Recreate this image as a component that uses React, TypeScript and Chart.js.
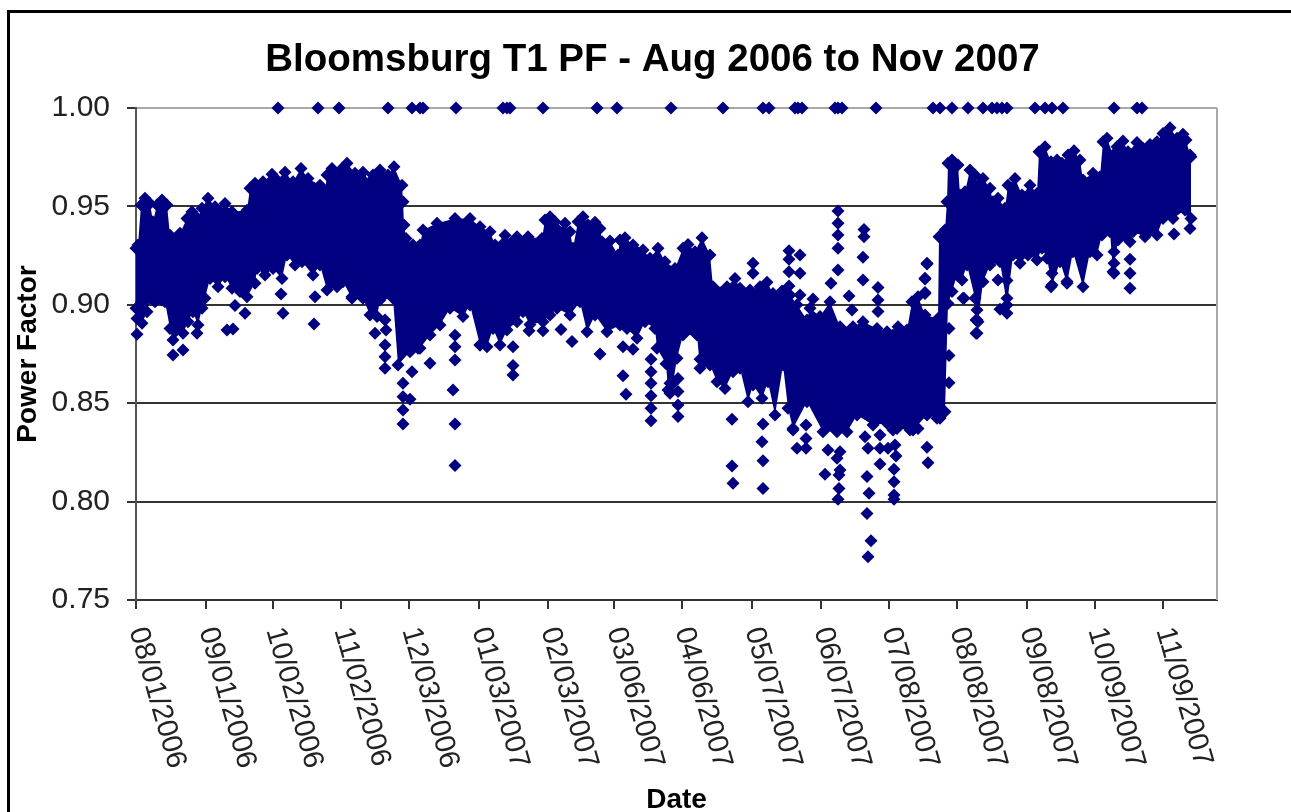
import React, { useEffect, useRef } from "react";
import { Chart, registerables } from "chart.js";

Chart.register(...registerables);

const chartTitle = "Bloomsburg T1 PF - Aug 2006 to Nov 2007";
const xTitle = "Date";
const yTitle = "Power Factor";

const tickSamples = [0, 70, 137, 205, 273, 343, 412, 478, 546, 616, 685, 753, 821, 891, 959, 1027];
const tickDates = [
  "08/01/2006", "09/01/2006", "10/02/2006", "11/02/2006", "12/03/2006", "01/03/2007", "02/03/2007", "03/06/2007",
  "04/06/2007", "05/07/2007", "06/07/2007", "07/08/2007", "08/08/2007", "09/08/2007", "10/09/2007", "11/09/2007",
];

const upperEnvelope: [number, number][] = [
  [0,.9287],[2,.9304],[5,.9507],[9,.9541],[14,.9515],[17,.9422],[21,.9507],[26,.9532],[31,.9507],[34,.9354],[44,.9363],[51,.9439],[56,.9473],[62,.9439],[66,.949],[72,.9541],[79,.9498],[84,.9473],[89,.9515],[96,.9473],[111,.9481],[114,.9592],[119,.9617],[126,.9592],[127,.9625],[136,.9663],[141,.9634],[149,.9673],[157,.9625],[165,.9693],[172,.9642],[184,.9608],[189,.9575],[191,.9659],[196,.9693],[202,.9659],[206,.9693],[211,.9719],[219,.9668],[227,.9673],[234,.9625],[237,.9659],[244,.9685],[252,.9659],[258,.9702],[266,.9608],[267,.9524],[268,.9405],[270,.9337],[277,.9304],[284,.9304],[287,.938],[301,.9414],[319,.9439],[334,.9439],[344,.9397],[354,.9371],[359,.9304],[369,.9354],[376,.9321],[381,.9346],[392,.9346],[406,.9337],[409,.9431],[414,.9448],[419,.9422],[422,.938],[429,.9414],[434,.9371],[437,.9287],[442,.9422],[447,.9448],[452,.9405],[459,.9419],[464,.9388],[466,.9321],[474,.9324],[482,.9253],[484,.9329],[489,.9341],[497,.9304],[501,.927],[507,.9278],[514,.9236],[522,.9287],[529,.9219],[539,.9185],[547,.9287],[552,.9307],[559,.927],[566,.9341],[574,.9253],[577,.9092],[591,.9092],[599,.9134],[604,.9084],[614,.9075],[624,.9092],[631,.9114],[637,.9058],[646,.907],[654,.905],[661,.9],[671,.8923],[674,.8982],[684,.894],[694,.9016],[704,.8889],[717,.8889],[727,.8914],[741,.888],[751,.8863],[762,.8889],[771,.8872],[776,.9016],[782,.9041],[789,.8948],[802,.8931],[803,.9346],[809,.938],[811,.9524],[812,.9719],[816,.9736],[822,.971],[824,.9558],[829,.9575],[834,.9685],[839,.9659],[842,.9608],[847,.9642],[854,.9592],[857,.9524],[862,.9541],[869,.949],[872,.9608],[879,.9642],[886,.9558],[894,.9608],[901,.9566],[903,.9778],[909,.9803],[915,.9727],[921,.9736],[926,.9719],[932,.9761],[938,.9783],[944,.9736],[947,.9634],[957,.9668],[964,.9651],[967,.9829],[971,.9846],[977,.9761],[981,.9803],[987,.9832],[992,.9778],[1001,.9825],[1007,.9795],[1014,.9815],[1021,.9829],[1027,.9871],[1034,.99],[1041,.9846],[1047,.9866],[1050,.9837],[1054,.9761],[1055,.9752],
];

const lowerEnvelope: [number, number][] = [
  [0,.8982],[1,.8931],[6,.8906],[11,.8965],[14,.9033],[19,.9016],[26,.9024],[29,.9016],[34,.888],[39,.8863],[47,.8855],[52,.8914],[57,.8965],[62,.8897],[66,.8982],[69,.9033],[74,.9134],[82,.9092],[89,.9143],[96,.9084],[104,.9067],[111,.9041],[119,.9109],[121,.9185],[129,.9151],[137,.9185],[146,.9134],[151,.9253],[159,.9202],[166,.9219],[177,.9151],[184,.9202],[191,.9075],[201,.9092],[207,.9117],[216,.9033],[227,.9033],[234,.8948],[241,.894],[244,.9024],[257,.9033],[262,.8694],[274,.8762],[284,.8779],[294,.8846],[304,.8897],[314,.8982],[327,.894],[334,.8999],[344,.8796],[351,.8787],[357,.888],[364,.8796],[371,.8872],[381,.8914],[387,.8965],[394,.89],[407,.8914],[414,.8948],[421,.8982],[434,.8948],[444,.9016],[451,.8863],[459,.8948],[471,.8863],[484,.8897],[491,.888],[501,.883],[509,.8914],[519,.888],[521,.8779],[530,.87],[532,.8567],[537,.86],[541,.8728],[547,.8846],[561,.8846],[564,.8677],[574,.8694],[581,.8609],[589,.8575],[597,.866],[604,.8677],[612,.8508],[617,.8593],[626,.8525],[632,.8609],[639,.844],[647,.8694],[652,.8474],[657,.8372],[671,.8508],[687,.8355],[701,.8355],[711,.8355],[721,.844],[737,.8389],[751,.8398],[761,.8372],[777,.8364],[791,.844],[801,.8423],[807,.8457],[809,.8457],[812,.9007],[816,.9067],[821,.9151],[826,.9126],[831,.9202],[839,.9033],[842,.8914],[847,.9117],[854,.9202],[864,.9219],[871,.8999],[877,.9253],[884,.9211],[892,.9253],[901,.9228],[906,.9287],[911,.9236],[916,.91],[924,.9219],[931,.9109],[937,.927],[947,.9092],[954,.927],[961,.9253],[966,.9355],[974,.9371],[977,.9168],[982,.9329],[994,.9321],[997,.9371],[1009,.9346],[1021,.9355],[1027,.9439],[1037,.9439],[1049,.9482],[1054,.9388],[1055,.9439],
];

const outlierReadings: [number, number][] = [
  [1,.885],[37,.8821],[37,.8745],[47,.877],[61,.8855],[91,.8872],[97,.8877],[99,.8996],[109,.8957],[145,.9055],[147,.8957],[179,.9041],[178,.8902],[216,.9041],[239,.8855],[249,.8923],[250,.8872],[249,.8796],[249,.8736],[249,.8677],[267,.8601],[276,.866],[267,.8533],[274,.852],[267,.8465],[267,.8394],[317,.8567],[319,.8394],[319,.8183],[294,.8703],[319,.872],[319,.8787],[319,.8845],[282,.8779],[344,.8796],[346,.8923],
  [377,.8787],[377,.8691],[377,.8643],[393,.8868],[407,.8868],[425,.8875],[436,.8813],[464,.875],[487,.8787],[487,.864],[490,.8545],[497,.8774],[515,.8723],[515,.866],[515,.8601],[515,.8538],[515,.8474],[515,.8411],[542,.8626],[542,.8559],[542,.8491],[542,.8432],[534,.8601],[534,.855],[564,.8723],[596,.8418],[596,.8181],[597,.8093],[627,.8394],[626,.8304],[627,.8208],[627,.8067],
  [617,.9211],[617,.916],[653,.9275],[664,.9253],[653,.9231],[653,.9168],[664,.916],[653,.9096],[664,.905],[677,.9029],[695,.9109],[702,.9477],[702,.9414],[702,.9355],[702,.9287],[702,.9177],[728,.9383],[728,.9346],[727,.9241],[727,.9126],[742,.9088],[742,.9024],[742,.8966],[713,.9045],[716,.8974],
  [657,.8364],[670,.8389],[670,.8321],[661,.8271],[670,.8271],[692,.8262],[704,.8253],[701,.822],[704,.816],[703,.8135],[689,.8139],[703,.8067],[702,.8012],[731,.8127],[733,.8042],[731,.794],[735,.7801],[732,.772],[744,.8338],[744,.8191],[759,.8288],[760,.8232],[758,.8164],[758,.8101],[758,.8033],[758,.8012],[791,.8276],[792,.8198],[791,.9211],[789,.9131],[789,.9058],[813,.888],[813,.8742],[813,.8604],[804,.8423],[782,.8372],[774,.8364],[757,.8364],[729,.833],[732,.8271],[744,.8271],[752,.8271],
  [828,.9033],[840,.8855],[840,.8923],[791,.9207],[789,.9135],[789,.9062],[827,.9033],[841,.8855],[841,.8923],[841,.8974],[862,.9126],[871,.9123],[871,.9033],[864,.8977],[871,.8957],[916,.9160],[915,.9092],[931,.9118],[994,.9084],[994,.916],[994,.9231],[978,.916],[978,.9211],[978,.927],[1038,.936],
];

const unityReadings = [
  142, 182, 203, 252, 276, 284, 287, 320, 367, 371, 374, 407, 461, 481, 535, 587, 627, 633, 659, 662, 666, 699, 702, 706, 740,
  797, 804, 816, 832, 847, 856, 861, 866, 871, 899, 909, 916, 927, 978, 1001, 1006,
];

const NAVY = "#000080";
const toPoints = (rows: [number, number][]) => rows.map(([x, y]) => ({ x, y }));

const pointStyleOptions = {
  pointStyle: "rectRot",
  pointRadius: 6.5,
  pointBorderWidth: 0,
  pointBackgroundColor: NAVY,
  pointBorderColor: NAVY,
  clip: false,
};

const axisDecor = {
  id: "axisDecor",
  afterLayout(chart: any) {
    if (chart.titleBlock) {
      chart.titleBlock.left = 14;
      chart.titleBlock.right = 1291;
    }
  },
  beforeDatasetsDraw(chart: any) {
    const { ctx, chartArea } = chart;
    ctx.save();
    ctx.strokeStyle = "#a8a8a8";
    ctx.lineWidth = 2;
    ctx.beginPath();
    ctx.moveTo(chartArea.right, chartArea.top);
    ctx.lineTo(chartArea.right, chartArea.bottom);
    ctx.stroke();
    ctx.restore();
  },
  afterDraw(chart: any) {
    const { ctx, scales } = chart;
    ctx.save();
    ctx.fillStyle = "#222";
    ctx.font = '29px "Liberation Sans"';
    ctx.textAlign = "left";
    ctx.textBaseline = "middle";
    tickSamples.forEach((s, i) => {
      const px = scales.x.getPixelForValue(s);
      ctx.save();
      ctx.translate(px + 1, 628);
      ctx.rotate((74 * Math.PI) / 180);
      ctx.fillText(tickDates[i], 0, 0);
      ctx.restore();
    });
    ctx.restore();
  },
};

export default function App() {
  const ref = useRef<HTMLCanvasElement>(null);
  useEffect(() => {
    document.body.style.margin = "0";
    const chart = new Chart(ref.current!, {
      type: "line",
      data: {
        datasets: [
          { data: toPoints(upperEnvelope), borderWidth: 0, backgroundColor: NAVY, fill: "+1", ...pointStyleOptions },
          { data: toPoints(lowerEnvelope), borderWidth: 0, backgroundColor: NAVY, fill: false, ...pointStyleOptions },
          { data: toPoints(outlierReadings), showLine: false, ...pointStyleOptions },
          { data: unityReadings.map((x) => ({ x, y: 1 })), showLine: false, ...pointStyleOptions },
        ],
      } as any,
      options: {
        responsive: false,
        animation: false,
        layout: { padding: { left: 0, right: 74, top: 0, bottom: 0 } },
        plugins: {
          legend: { display: false },
          tooltip: { enabled: false },
          title: {
            display: true,
            text: chartTitle,
            color: "#000",
            font: { family: '"Liberation Sans"', size: 38.5, weight: "bold", lineHeight: 1.2 },
            padding: { top: 37, bottom: 24.8 },
          },
        },
        scales: {
          x: {
            type: "linear",
            min: 0,
            max: 1081,
            afterBuildTicks: (s: any) => {
              s.ticks = tickSamples.map((value) => ({ value }));
            },
            afterFit: (s: any) => {
              s.height = 212;
            },
            ticks: { display: false },
            grid: { drawOnChartArea: false, drawTicks: true, tickLength: 9, tickColor: "#333", lineWidth: 2 },
            border: { color: "#333", width: 2 },
            title: {
              display: true,
              text: xTitle,
              color: "#000",
              font: { family: '"Liberation Sans"', size: 28, weight: "bold", lineHeight: 0.8 },
              padding: { top: 0, bottom: 1 },
            },
          },
          y: {
            min: 0.75,
            max: 1,
            afterFit: (s: any) => {
              s.width = 136;
            },
            ticks: {
              stepSize: 0.05,
              padding: 17,
              color: "#222",
              font: { family: '"Liberation Sans"', size: 30 },
              callback: (v: any) => Number(v).toFixed(2),
            },
            grid: {
              tickLength: 9,
              tickColor: "#333",
              lineWidth: 2,
              color: (c: any) => (c.tick && c.tick.value === 1 ? "#a8a8a8" : "#333"),
            },
            border: { color: "#555", width: 2 },
            title: {
              display: true,
              text: yTitle,
              color: "#000",
              font: { family: '"Liberation Sans"', size: 28, weight: "bold", lineHeight: 1.2 },
              padding: { top: 11, bottom: 0 },
            },
          },
        },
      } as any,
      plugins: [axisDecor],
    } as any);
    return () => chart.destroy();
  }, []);
  return (
    <div style={{ position: "relative", width: 1291, height: 812, overflow: "hidden", background: "#fff" }}>
      <canvas ref={ref} width={1291} height={812} style={{ display: "block" }} />
      <div
        style={{
          position: "absolute",
          left: 7,
          top: 10,
          right: 0,
          bottom: 0,
          borderLeft: "3px solid #000",
          borderTop: "3px solid #000",
          pointerEvents: "none",
        }}
      />
    </div>
  );
}
